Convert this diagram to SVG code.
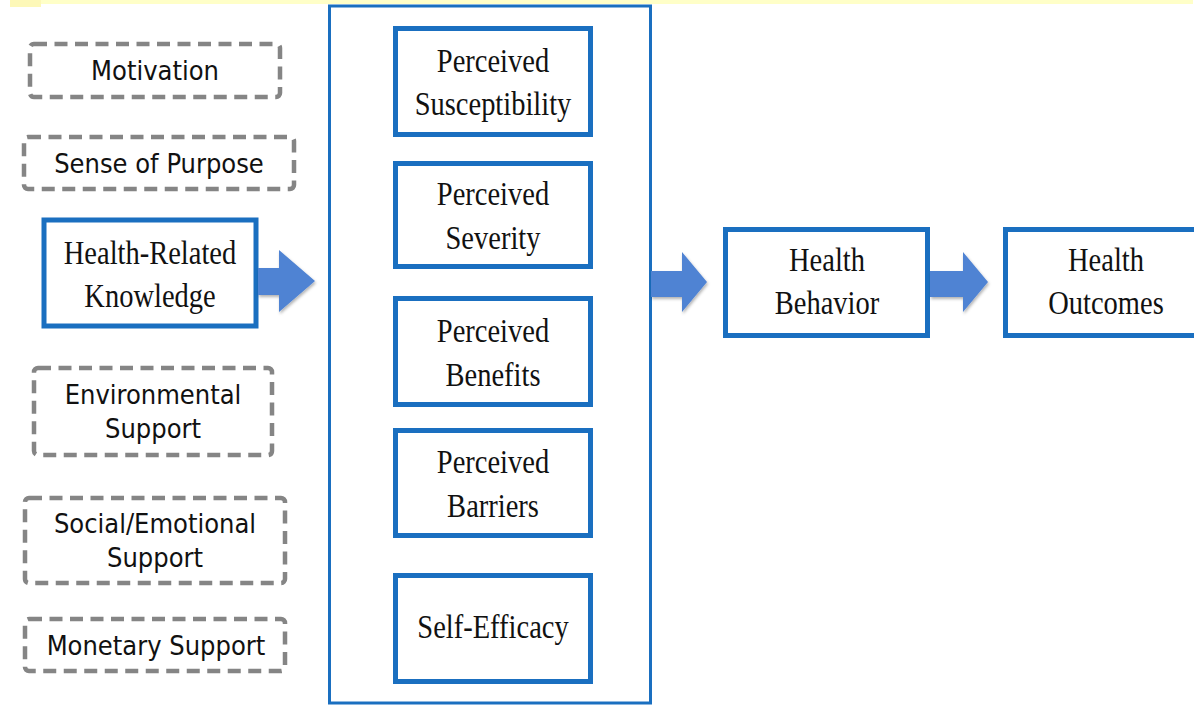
<svg xmlns="http://www.w3.org/2000/svg" width="1194" height="706" viewBox="0 0 1194 706">
  <style>
    .dash { fill: #ffffff; stroke: #858585; stroke-width: 4.5; stroke-dasharray: 13 7.5; }
    .blue { fill: #ffffff; stroke: #1a6fc0; stroke-width: 5; }
    .outer { fill: none; stroke: #1a6fc0; stroke-width: 3; }
    .arrow { fill: #4f83d3; }
    .serif { font-family: "Liberation Serif", "Times New Roman", serif; font-size: 28.5px; fill: #111111; text-anchor: middle; }
    .sans { font-family: "DejaVu Sans Condensed", "DejaVu Sans", sans-serif; font-stretch: condensed; font-size: 27px; fill: #111111; text-anchor: middle; }
  </style>
  <defs>
    <filter id="shadow" x="-20%" y="-20%" width="150%" height="150%">
      <feDropShadow dx="1" dy="2" stdDeviation="1.5" flood-color="#000000" flood-opacity="0.3"/>
    </filter>
  </defs>

  <rect x="0" y="0" width="1194" height="706" fill="#ffffff"/>
  <!-- highlight band along the top edge -->
  <rect x="10" y="0" width="1183" height="4" fill="#ffffc8"/>
  <rect x="10" y="0" width="31" height="7" fill="#fdf8b8"/>

  <!-- enclosing frame of the perception constructs -->
  <rect id="frame" class="outer" x="329.5" y="6" width="321" height="697"/>

  <!-- dashed factor boxes -->
  <g id="motivation">
    <rect class="dash" x="30" y="44" width="250" height="53" rx="4"/>
    <text class="sans" x="155" y="80">Motivation</text>
  </g>
  <g id="sense-of-purpose">
    <rect class="dash" x="24" y="137" width="270" height="52" rx="4"/>
    <text class="sans" x="159" y="173">Sense of Purpose</text>
  </g>
  <g id="environmental-support">
    <rect class="dash" x="34" y="368" width="238" height="87" rx="4"/>
    <text class="sans" x="153" y="404">Environmental</text>
    <text class="sans" x="153" y="438">Support</text>
  </g>
  <g id="social-emotional-support">
    <rect class="dash" x="25" y="498" width="260" height="85" rx="4"/>
    <text class="sans" x="155" y="533">Social/Emotional</text>
    <text class="sans" x="155" y="567">Support</text>
  </g>
  <g id="monetary-support">
    <rect class="dash" x="25" y="619" width="260" height="52" rx="4"/>
    <text class="sans" x="156" y="655">Monetary Support</text>
  </g>

  <!-- knowledge -->
  <g id="health-related-knowledge">
    <rect class="blue" x="44" y="220" width="212" height="106"/>
    <text class="serif" transform="translate(150,264) scale(1,1.2)">Health-Related</text>
    <text class="serif" transform="translate(150,307) scale(1,1.2)">Knowledge</text>
  </g>

  <!-- perception constructs -->
  <g id="perceived-susceptibility">
    <rect class="blue" x="395.5" y="28.5" width="195" height="106"/>
    <text class="serif" transform="translate(493,72) scale(1,1.2)">Perceived</text>
    <text class="serif" transform="translate(493,115) scale(1,1.2)">Susceptibility</text>
  </g>
  <g id="perceived-severity">
    <rect class="blue" x="395.5" y="163.5" width="195" height="103"/>
    <text class="serif" transform="translate(493,205) scale(1,1.2)">Perceived</text>
    <text class="serif" transform="translate(493,249) scale(1,1.2)">Severity</text>
  </g>
  <g id="perceived-benefits">
    <rect class="blue" x="395.5" y="298.5" width="195" height="106"/>
    <text class="serif" transform="translate(493,342) scale(1,1.2)">Perceived</text>
    <text class="serif" transform="translate(493,386) scale(1,1.2)">Benefits</text>
  </g>
  <g id="perceived-barriers">
    <rect class="blue" x="395.5" y="430.5" width="195" height="105"/>
    <text class="serif" transform="translate(493,473) scale(1,1.2)">Perceived</text>
    <text class="serif" transform="translate(493,517) scale(1,1.2)">Barriers</text>
  </g>
  <g id="self-efficacy">
    <rect class="blue" x="395.5" y="575.5" width="195" height="106"/>
    <text class="serif" transform="translate(493,638) scale(1,1.2)">Self-Efficacy</text>
  </g>

  <!-- outcomes -->
  <g id="health-behavior">
    <rect class="blue" x="725.5" y="229.5" width="202" height="106"/>
    <text class="serif" transform="translate(827,271) scale(1,1.2)">Health</text>
    <text class="serif" transform="translate(827,314) scale(1,1.2)">Behavior</text>
  </g>
  <g id="health-outcomes">
    <rect class="blue" x="1005.5" y="229.5" width="200" height="106"/>
    <text class="serif" transform="translate(1106,271) scale(1,1.2)">Health</text>
    <text class="serif" transform="translate(1106,314) scale(1,1.2)">Outcomes</text>
  </g>

  <!-- block arrows -->
  <g id="connectors" filter="url(#shadow)">
    <polygon class="arrow" points="258,268 279,268 279,250 315,281 279,312 279,295 258,295"/>
    <polygon class="arrow" points="651,271 682,271 682,252 707,282 682,312 682,297 651,297"/>
    <polygon class="arrow" points="930,271 963,271 963,252 988,282 963,312 963,297 930,297"/>
  </g>
</svg>
